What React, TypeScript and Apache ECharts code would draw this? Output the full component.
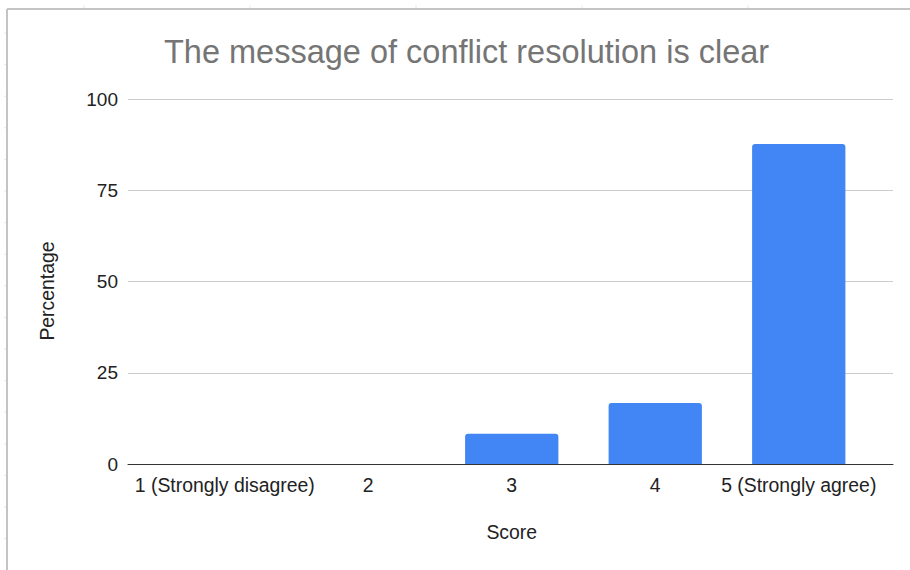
import React, { useEffect, useRef } from "react";
import * as echarts from "echarts";

const categories = ["1 (Strongly disagree)", "2", "3", "4", "5 (Strongly agree)"];
const percentages = [0, 0, 8.3, 16.7, 87.7];
const yTicks = [0, 25, 50, 75, 100];
const titleText = "The message of conflict resolution is clear";
const xAxisTitle = "Score";
const yAxisTitle = "Percentage";

const FONT = "'Liberation Sans', Arial, Helvetica, sans-serif";

export default function App() {
  const ref = useRef<HTMLDivElement>(null);

  useEffect(() => {
    if (!ref.current) return;
    const chart = echarts.init(ref.current, null, { renderer: "svg" });

    const yMin = yTicks[0];
    const yMax = yTicks[yTicks.length - 1];
    const yInterval = yTicks[1] - yTicks[0];

    const frame: any[] = [
      { type: "line", shape: { x1: 7, y1: 9, x2: 910, y2: 9 }, style: { stroke: "#c4c4c4", lineWidth: 2 }, silent: true },
      { type: "line", shape: { x1: 7, y1: 9, x2: 7, y2: 570 }, style: { stroke: "#c4c4c4", lineWidth: 2 }, silent: true },
    ];
    [84, 250, 416, 582, 748].forEach((x) => {
      frame.push({ type: "line", shape: { x1: x, y1: 5, x2: x, y2: 8 }, style: { stroke: "#e8e8e8", lineWidth: 1 }, silent: true });
    });
    for (let i = 0; i < 17; i++) {
      const y = 33 + i * 31.6;
      frame.push({ type: "line", shape: { x1: 4, y1: y, x2: 6, y2: y }, style: { stroke: "#e8e8e8", lineWidth: 1 }, silent: true });
    }

    chart.setOption({
      animation: false,
      backgroundColor: "#ffffff",
      textStyle: { fontFamily: FONT },
      title: {
        text: titleText,
        left: 164,
        top: 35,
        padding: 0,
        textStyle: { fontFamily: FONT, fontSize: 32.5, fontWeight: "normal", color: "#757575" },
      },
      graphic: frame,
      grid: [
        { left: 128, right: 17, top: 99, bottom: 106, containLabel: false },
        { left: 153, right: 39.5, top: 99, bottom: 106, containLabel: false },
      ],
      xAxis: [
        {
          type: "value",
          gridIndex: 0,
          min: 0,
          max: 1,
          axisLine: { show: true, onZero: false, lineStyle: { color: "#333333", width: 1 } },
          axisTick: { show: false },
          axisLabel: { show: false },
          splitLine: { show: false },
        },
        {
          type: "category",
          gridIndex: 1,
          data: categories,
          axisLine: { show: false },
          axisTick: { show: false },
          axisLabel: { interval: 0, fontSize: 19.4, color: "#222222", margin: 11, fontFamily: FONT },
          name: xAxisTitle,
          nameLocation: "middle",
          nameGap: 58,
          nameTextStyle: { fontSize: 19.4, color: "#222222", fontFamily: FONT },
        },
      ],
      yAxis: [
        {
          type: "value",
          gridIndex: 0,
          min: yMin,
          max: yMax,
          interval: yInterval,
          axisLine: { show: false },
          axisTick: { show: false },
          axisLabel: { fontSize: 19, color: "#222222", margin: 10, fontFamily: FONT },
          splitLine: { show: true, lineStyle: { color: "#cccccc", width: 1 } },
          name: yAxisTitle,
          nameLocation: "middle",
          nameGap: 72,
          nameTextStyle: { fontSize: 19.4, color: "#222222", fontFamily: FONT, padding: [0, 19, 0, 0] },
        },
        {
          type: "value",
          gridIndex: 1,
          min: yMin,
          max: yMax,
          interval: yInterval,
          show: false,
          splitLine: { show: false },
        },
      ],
      series: [
        {
          type: "bar",
          xAxisIndex: 1,
          yAxisIndex: 1,
          data: percentages,
          barWidth: "65%",
          itemStyle: { color: "#4285f4", borderRadius: [3, 3, 0, 0] },
        },
      ],
    });

    return () => chart.dispose();
  }, []);

  return (
    <div
      ref={ref}
      style={{ position: "absolute", left: 0, top: 0, width: 910, height: 570 }}
    />
  );
}
